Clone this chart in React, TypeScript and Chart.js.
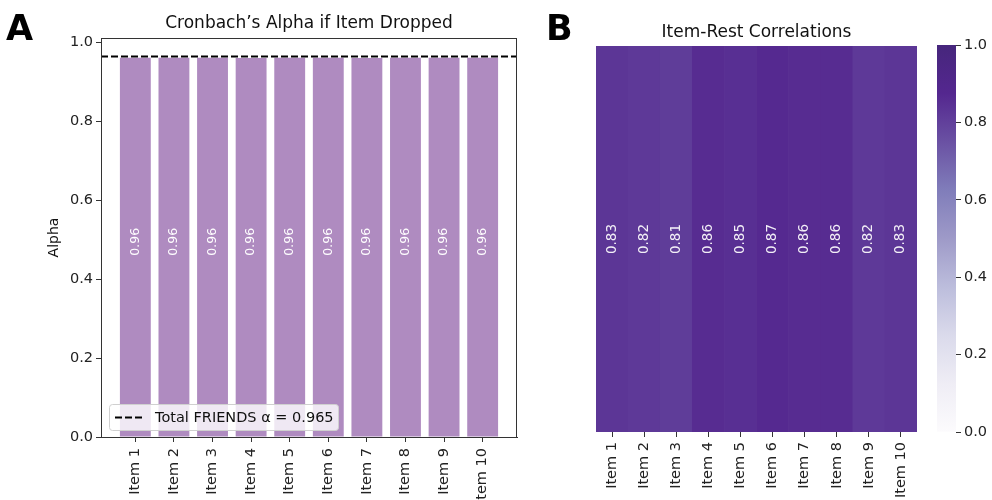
import React, { useEffect, useRef } from "react";
import { Chart, registerables } from "chart.js";

Chart.register(...registerables);

const ITEMS = ["Item 1", "Item 2", "Item 3", "Item 4", "Item 5", "Item 6", "Item 7", "Item 8", "Item 9", "Item 10"];
const ALPHA_IF_DROPPED = [0.962, 0.962, 0.962, 0.961, 0.962, 0.962, 0.961, 0.962, 0.962, 0.962];
const TOTAL_ALPHA = 0.965;
const ITEM_REST = [0.83, 0.82, 0.81, 0.86, 0.85, 0.87, 0.86, 0.86, 0.82, 0.83];
const ALPHA_TICKS = [0, 0.2, 0.4, 0.6, 0.8, 1.0];
const CBAR_TICKS = [0, 0.2, 0.4, 0.6, 0.8, 1.0];

const FONT = "'DejaVu Sans', sans-serif";
const BAR_COLOR = "#af8bc0";
const AXIS_COLOR = "#333333";
const TICK_SIZE = 14.5;

const PURPLES = ["#fcfbfd", "#efedf5", "#dadaeb", "#bcbddc", "#9e9ac8", "#807dba", "#6a51a3", "#54278f", "#46267c"];
function hexToRgb(h: string) {
  return [parseInt(h.slice(1, 3), 16), parseInt(h.slice(3, 5), 16), parseInt(h.slice(5, 7), 16)];
}
function purples(t: number) {
  const x = Math.max(0, Math.min(1, t)) * (PURPLES.length - 1);
  const i = Math.min(PURPLES.length - 2, Math.floor(x));
  const f = x - i;
  const a = hexToRgb(PURPLES[i]);
  const b = hexToRgb(PURPLES[i + 1]);
  const c = a.map((v, k) => Math.round(v + (b[k] - v) * f));
  return `rgb(${c[0]},${c[1]},${c[2]})`;
}

Chart.defaults.font.family = FONT;
Chart.defaults.font.size = TICK_SIZE;
Chart.defaults.color = "#222";

export default function App() {
  const leftRef = useRef<HTMLCanvasElement>(null);
  const rightRef = useRef<HTMLCanvasElement>(null);
  const cbarRef = useRef<HTMLCanvasElement>(null);

  useEffect(() => {
    document.body.style.margin = "0";
    const charts: Chart[] = [];

    // ---------- Panel A ----------
    const leftPlugin = {
      id: "leftDecor",
      afterDatasetsDraw(chart: any) {
        const { ctx } = chart;
        const meta = chart.getDatasetMeta(0);
        const y = chart.scales.y;
        ctx.save();
        ctx.fillStyle = "#ffffff";
        ctx.font = `12.5px ${FONT}`;
        ctx.textAlign = "center";
        ctx.textBaseline = "middle";
        meta.data.forEach((bar: any, i: number) => {
          ctx.save();
          ctx.translate(bar.x, y.getPixelForValue(0.495));
          ctx.rotate(-Math.PI / 2);
          ctx.fillText(ALPHA_IF_DROPPED[i].toFixed(2), 0, 0);
          ctx.restore();
        });
        ctx.restore();
      },
      afterDraw(chart: any) {
        const { ctx, chartArea } = chart;
        ctx.save();
        ctx.strokeStyle = AXIS_COLOR;
        ctx.lineWidth = 1;
        ctx.strokeRect(chartArea.left + 0.5, chartArea.top + 0.5, chartArea.right - chartArea.left - 1, chartArea.bottom - chartArea.top);
        ctx.fillStyle = "#111";
        ctx.font = `17px ${FONT}`;
        ctx.textAlign = "center";
        ctx.textBaseline = "alphabetic";
        ctx.fillText("Cronbach\u2019s Alpha if Item Dropped", (chartArea.left + chartArea.right) / 2, chartArea.top - 10);
        ctx.font = `bold 35px ${FONT}`;
        ctx.textAlign = "left";
        ctx.fillStyle = "#000";
        ctx.fillText("A", 6, 40);
        // legend
        const lx = chartArea.left + 8, ly = chartArea.bottom - 33, lw = 229, lh = 26;
        ctx.beginPath();
        ctx.roundRect(lx + 0.5, ly + 0.5, lw, lh, 3);
        ctx.fillStyle = "rgba(255,255,255,0.8)";
        ctx.fill();
        ctx.strokeStyle = "#d0d0d0";
        ctx.lineWidth = 1;
        ctx.stroke();
        ctx.beginPath();
        ctx.setLineDash([7, 3]);
        ctx.strokeStyle = "#000";
        ctx.lineWidth = 2;
        ctx.moveTo(lx + 6, ly + lh / 2 + 0.5);
        ctx.lineTo(lx + 36, ly + lh / 2 + 0.5);
        ctx.stroke();
        ctx.setLineDash([]);
        ctx.fillStyle = "#111";
        ctx.font = `${TICK_SIZE}px ${FONT}`;
        ctx.textBaseline = "middle";
        ctx.fillText(chart.data.datasets[1].label, lx + 46, ly + lh / 2 + 1);
        ctx.restore();
      },
    };

    const left = new Chart(leftRef.current!, {
      type: "bar",
      data: {
        datasets: [
          {
            type: "bar",
            label: "Alpha if dropped",
            data: ALPHA_IF_DROPPED.map((v, i) => ({ x: i, y: v })),
            backgroundColor: BAR_COLOR,
            barPercentage: 0.8,
            categoryPercentage: 1,
            order: 1,
          } as any,
          {
            type: "line",
            label: `Total FRIENDS \u03b1 = ${TOTAL_ALPHA.toFixed(3)}`,
            data: [{ x: -0.89, y: TOTAL_ALPHA }, { x: ITEMS.length - 1 + 0.89, y: TOTAL_ALPHA }],
            borderColor: "#000",
            borderWidth: 2,
            borderDash: [7, 3],
            pointRadius: 0,
            order: 0,
          } as any,
        ],
      },
      options: {
        responsive: false,
        animation: false,
        layout: { padding: { left: 0, right: 23, top: 38, bottom: 0 } },
        plugins: { legend: { display: false }, tooltip: { enabled: false }, title: { display: false } },
        scales: {
          x: {
            type: "linear",
            min: -0.89,
            max: ITEMS.length - 1 + 0.89,
            offset: false,
            afterBuildTicks: (s: any) => {
              s.ticks = ITEMS.map((_, i) => ({ value: i }));
            },
            afterFit: (s: any) => {
              s.height = 63;
            },
            ticks: {
              autoSkip: false,
              minRotation: 90,
              maxRotation: 90,
              padding: 6,
              color: "#222",
              font: { size: TICK_SIZE },
              callback: (v: any) => ITEMS[Math.round(Number(v))],
            },
            grid: { display: true, drawOnChartArea: false, drawTicks: true, tickLength: 5, color: AXIS_COLOR, offset: false },
            border: { display: true, color: AXIS_COLOR },
          },
          y: {
            type: "linear",
            min: 0,
            max: 1.012,
            afterBuildTicks: (s: any) => {
              s.ticks = ALPHA_TICKS.map((v) => ({ value: v }));
            },
            afterFit: (s: any) => {
              s.width = 101;
            },
            ticks: {
              includeBounds: false,
              padding: 3,
              color: "#222",
              font: { size: TICK_SIZE },
              callback: (v: any) => Number(v).toFixed(1),
            },
            grid: { display: true, drawOnChartArea: false, tickLength: 5, color: AXIS_COLOR },
            border: { display: true, color: AXIS_COLOR },
            title: { display: true, text: "Alpha", color: "#111", font: { size: 14 }, padding: { top: 46, bottom: 0 } },
          },
        },
      } as any,
      plugins: [leftPlugin],
    });
    charts.push(left);

    // ---------- Panel B ----------
    const rightPlugin = {
      id: "rightDecor",
      afterDatasetsDraw(chart: any) {
        const { ctx } = chart;
        const meta = chart.getDatasetMeta(0);
        const midY = chart.scales.y.getPixelForValue(0.5);
        ctx.save();
        ctx.fillStyle = "rgba(255,255,255,0.92)";
        ctx.font = `13.5px ${FONT}`;
        ctx.textAlign = "center";
        ctx.textBaseline = "middle";
        meta.data.forEach((bar: any, i: number) => {
          ctx.save();
          ctx.translate(bar.x, midY);
          ctx.rotate(-Math.PI / 2);
          ctx.fillText(ITEM_REST[i].toFixed(2), 0, 0);
          ctx.restore();
        });
        ctx.restore();
      },
      afterDraw(chart: any) {
        const { ctx, chartArea } = chart;
        ctx.save();
        ctx.fillStyle = "#111";
        ctx.font = `17px ${FONT}`;
        ctx.textAlign = "center";
        ctx.textBaseline = "alphabetic";
        ctx.fillText("Item-Rest Correlations", (chartArea.left + chartArea.right) / 2, chartArea.top - 9);
        ctx.font = `bold 35px ${FONT}`;
        ctx.textAlign = "left";
        ctx.fillStyle = "#000";
        ctx.fillText("B", 6, 40);
        ctx.restore();
      },
    };

    const right = new Chart(rightRef.current!, {
      type: "bar",
      data: {
        labels: ITEMS,
        datasets: [
          {
            label: "Item-Rest",
            data: ITEM_REST.map(() => [0, 1]),
            backgroundColor: ITEM_REST.map((v) => purples(v)),
            borderWidth: 0,
            barPercentage: 1,
            categoryPercentage: 1,
          } as any,
        ],
      },
      options: {
        responsive: false,
        animation: false,
        layout: { padding: { left: 56, right: 13, top: 46, bottom: 0 } },
        plugins: { legend: { display: false }, tooltip: { enabled: false } },
        scales: {
          x: {
            type: "category",
            offset: true,
            afterFit: (s: any) => {
              s.height = 68;
            },
            ticks: { autoSkip: false, minRotation: 90, maxRotation: 90, padding: 5, color: "#222", font: { size: TICK_SIZE } },
            grid: { display: true, drawOnChartArea: false, tickLength: 5, color: AXIS_COLOR, offset: false },
            border: { display: false },
          },
          y: { display: false, min: 0, max: 1 },
        },
      } as any,
      plugins: [rightPlugin],
    });
    charts.push(right);

    // ---------- Colorbar ----------
    const cbar = new Chart(cbarRef.current!, {
      type: "bar",
      data: {
        labels: [""],
        datasets: [
          {
            label: "colorbar",
            data: [[0, 1]],
            borderWidth: 0,
            barPercentage: 1,
            categoryPercentage: 1,
            backgroundColor: (c: any) => {
              const chart = c.chart;
              const ys = chart.scales.y;
              if (!chart.chartArea || !ys) return PURPLES[4];
              const g = chart.ctx.createLinearGradient(0, ys.getPixelForValue(0), 0, ys.getPixelForValue(1));
              PURPLES.forEach((col, i) => g.addColorStop(i / (PURPLES.length - 1), col));
              return g;
            },
          } as any,
        ],
      },
      options: {
        responsive: false,
        animation: false,
        layout: { padding: { left: 17, right: 0, top: 45, bottom: 68 } },
        plugins: { legend: { display: false }, tooltip: { enabled: false } },
        scales: {
          x: { display: false, offset: true },
          y: {
            position: "right",
            min: 0,
            max: 1,
            afterBuildTicks: (s: any) => {
              s.ticks = CBAR_TICKS.map((v) => ({ value: v }));
            },
            afterFit: (s: any) => {
              s.width = 36;
            },
            ticks: { padding: 3, color: "#222", font: { size: TICK_SIZE }, callback: (v: any) => Number(v).toFixed(1) },
            grid: { display: true, drawOnChartArea: false, tickLength: 5, color: AXIS_COLOR },
            border: { display: false },
          },
        },
      } as any,
    });
    charts.push(cbar);

    return () => charts.forEach((c) => c.destroy());
  }, []);

  return (
    <div style={{ position: "relative", width: 992, height: 500, background: "#fff", overflow: "hidden" }}>
      <canvas ref={leftRef} width={540} height={500} style={{ position: "absolute", left: 0, top: 0 }} />
      <canvas ref={rightRef} width={390} height={500} style={{ position: "absolute", left: 540, top: 0 }} />
      <canvas ref={cbarRef} width={72} height={500} style={{ position: "absolute", left: 920, top: 0 }} />
    </div>
  );
}
